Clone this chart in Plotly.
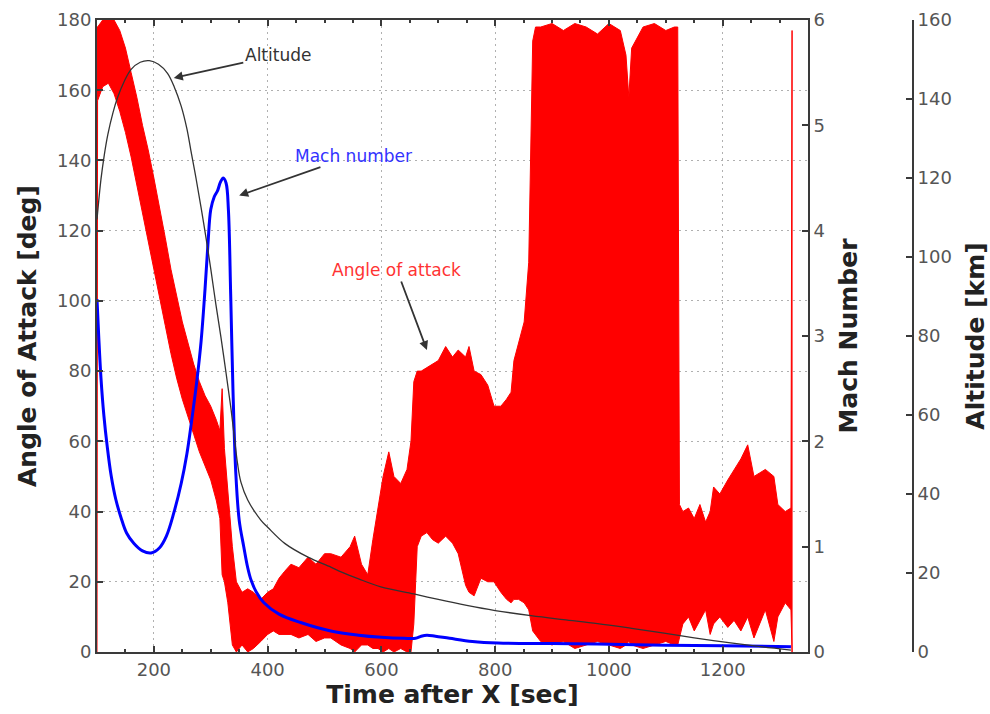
import plotly.graph_objects as go

# ---------------- data ----------------
# Angle of attack: envelope of the oscillating signal (deg)
aoa_t = [100, 101, 110, 120, 130, 140, 150, 160, 170, 180, 190, 200, 210, 220, 230, 240,
         250, 260, 270, 280, 290, 300, 310, 316, 320, 324, 330, 338, 345, 355, 365, 375,
         388, 400, 410, 420, 430, 441, 455, 471, 485, 500, 511, 529, 545, 553, 565, 576,
         585, 594, 603, 613, 622, 634, 645, 652, 657, 663, 670, 680, 690, 700, 713, 725,
         735, 748, 754, 763, 775, 787, 798, 810, 820, 828, 833, 841, 851, 859, 866, 871,
         880, 900, 920, 940, 960, 980, 1000, 1020, 1030, 1035, 1040, 1060, 1080, 1100, 1115,
         1121, 1124, 1130, 1140, 1150, 1160, 1170, 1178, 1184, 1195, 1209, 1220, 1232, 1244,
         1255, 1265, 1275, 1290, 1297, 1310, 1320, 1322]
aoa_hi = [178, 178, 180, 180, 180, 177, 172, 165, 158, 150, 143, 135, 127, 118, 109, 101,
          94, 88, 82, 77, 73, 70, 66, 63, 75, 58, 45, 30, 20, 17, 18, 17,
          15, 17, 18, 21, 23, 25, 24, 27, 25, 28, 28, 27, 30, 33, 25, 22,
          32, 41, 50, 57, 50, 48, 52, 60, 77, 80, 80, 81, 82, 83, 87, 84,
          86, 84, 87, 80, 79, 76, 70, 70, 72, 74, 83, 88, 94, 111, 174, 178,
          178, 179, 177, 179, 178, 176, 179, 177, 170, 158, 172, 178, 179, 177, 178,
          178, 42, 40, 41, 38, 42, 37, 40, 47, 45, 49, 52, 55, 59,
          50, 51, 52, 50, 42, 40, 41, 177]
aoa_lo = [0, 157, 161, 162, 159, 154, 148, 141, 134, 126, 118, 109, 101, 93, 85, 78,
          72, 67, 62, 57, 53, 49, 43, 38, 22, 20, 14, 2, 0, 2, 0, 1,
          3, 5, 6, 5, 5, 5, 4, 5, 3, 4, 4, 2, 1, 0, 2, 2,
          1, 1, 0, 1, 0, 1, 0, 0, 8, 30, 33, 34, 32, 31, 33, 31,
          28, 19, 17, 16, 21, 20, 20, 17, 15, 14, 15, 15, 14, 12, 6, 5,
          3, 2, 3, 1, 2, 3, 2, 1, 2, 3, 2, 1, 2, 3, 2,
          2, 4, 8, 10, 6, 9, 12, 5, 8, 10, 7, 9, 6, 10,
          4, 8, 12, 3, 10, 14, 12, 0]

# Mach number
mach_t = [100, 103, 107, 112, 118, 125, 133, 142, 152, 165, 180, 195, 210, 222, 235, 248,
          258, 266, 275, 283, 290, 295, 300, 306, 312, 317, 322, 327, 331, 335, 339, 344,
          350, 358, 365, 371, 380, 393, 420, 458, 511, 560, 600, 640, 660, 670, 680, 695,
          720, 760, 805, 900, 980, 1100, 1200, 1320]
mach = [3.35, 3.0, 2.6, 2.25, 1.95, 1.67, 1.45, 1.28, 1.13, 1.03, 0.96, 0.94, 0.99, 1.1, 1.32, 1.6,
        1.88, 2.18, 2.55, 2.95, 3.45, 3.87, 4.2, 4.32, 4.38, 4.46, 4.5, 4.45, 4.2, 3.4, 2.5, 1.7,
        1.25, 1.0, 0.8, 0.68, 0.57, 0.47, 0.36, 0.28, 0.2, 0.16, 0.14, 0.13, 0.13, 0.15, 0.16, 0.15,
        0.13, 0.1, 0.085, 0.08, 0.076, 0.065, 0.06, 0.05]

# Altitude (km)
alt_t = [100, 107, 113, 119, 128, 136, 148, 160, 176, 192, 208, 224, 236, 248, 258, 265,
         274, 283, 292, 300, 309, 318, 327, 335, 341, 347, 353, 365, 388, 400, 430, 471,
         511, 529, 560, 599, 657, 700, 750, 800, 863, 920, 980, 1040, 1097, 1150, 1214, 1270, 1320]
alt = [109.5, 119.7, 126, 131, 136.5, 140.3, 144.5, 147.5, 149.3, 149.7, 148.8, 146.5, 143, 138.2, 132.5, 127,
       120, 112.5, 104.5, 97, 88, 79.6, 70.5, 62.2, 55, 47.8, 43, 38.5, 33.4, 31.6, 27.5, 24,
       21.5, 20.3, 18.5, 16.5, 14.7, 13.3, 11.8, 10.5, 9.2, 8.2, 7.2, 6.0, 4.8, 3.6, 2.3, 1.3, 0.5]

x_ticks = [200, 400, 600, 800, 1000, 1200]

# ---------------- figure ----------------
FONT = "DejaVu Sans"
AX = "#3a3a3a"
TICKF = dict(family=FONT, size=18, color="#555555")
TITLEF = dict(family=FONT, size=25, color="#222222")

fig = go.Figure()

fig.add_trace(go.Scatter(
    x=aoa_t + aoa_t[::-1], y=aoa_hi + aoa_lo[::-1],
    mode="lines", fill="toself", fillcolor="#ff0000",
    line=dict(color="#ff0000", width=1), yaxis="y", hoverinfo="skip"))

fig.add_trace(go.Scatter(x=alt_t, y=alt, mode="lines",
                         line=dict(color="#333333", width=1.3, shape="spline"), yaxis="y3"))
fig.add_trace(go.Scatter(x=mach_t, y=mach, mode="lines",
                         line=dict(color="#0000ff", width=3, shape="spline"), yaxis="y2"))

L, R, T, B = 97, 20, 20, 62
W, H = 990, 714
pw = W - L - R
dom_r = (808 - L) / pw
alt_pos = (913 - L) / pw

grid = dict(showgrid=True, gridcolor="#b0b0b0", gridwidth=1, griddash="2px,4px")

fig.update_layout(
    width=W, height=H, margin=dict(l=L, r=R, t=T, b=B, autoexpand=False),
    paper_bgcolor="white", plot_bgcolor="white", showlegend=False,
    xaxis=dict(domain=[0, dom_r], range=[100, 1350], tickvals=x_ticks, automargin=False,
               ticks="inside", ticklen=6, tickwidth=2, tickcolor=AX,
               showline=True, linecolor=AX, linewidth=2, mirror="ticks",
               minor=dict(dtick=50, tick0=0, ticks="inside", ticklen=3, tickcolor=AX, showgrid=False),
               tickfont=TICKF, zeroline=False,
               title=dict(text="<b>Time after X [sec]</b>", font=TITLEF, standoff=3),
               **grid),
    yaxis=dict(range=[0, 180], dtick=20, ticks="inside", ticklen=6, tickwidth=2, tickcolor=AX,
               showline=True, linecolor=AX, linewidth=2, tickfont=TICKF, zeroline=False,
               automargin=False, **grid),
    yaxis2=dict(range=[0, 6], dtick=1, overlaying="y", side="right", anchor="x",
                ticks="inside", ticklen=6, tickwidth=2, tickcolor=AX, automargin=False,
                showline=True, linecolor=AX, linewidth=2, tickfont=TICKF,
                showgrid=False, zeroline=False,
                title=dict(text="<b>Mach Number</b>", font=TITLEF, standoff=15)),
    yaxis3=dict(range=[0, 160], dtick=20, overlaying="y", side="right", anchor="free",
                position=alt_pos, ticks="inside", ticklen=6, tickwidth=2, tickcolor=AX,
                showline=True, linecolor=AX, linewidth=2, tickfont=TICKF, automargin=False,
                showgrid=False, zeroline=False,
                title=dict(text="<b>Altitude [km]</b>", font=TITLEF, standoff=16)),
)

# left axis title
fig.add_annotation(x=(27 - L) / pw, y=0.5, xref="paper", yref="paper",
                   text="<b>Angle of Attack [deg]</b>", font=TITLEF, textangle=-90,
                   showarrow=False, xanchor="center", yanchor="middle")

ann_font = dict(family=FONT, size=17)
fig.add_annotation(x=235, y=163.5, xref="x", yref="y", text="Altitude",
                   font=dict(ann_font, color="#333333"), showarrow=True,
                   ax=104, ay=-23, arrowhead=2, arrowsize=1, arrowwidth=1.8, arrowcolor="#333333")
fig.add_annotation(x=350, y=130, xref="x", yref="y", text="Mach number",
                   font=dict(ann_font, color="#3333ff"), showarrow=True,
                   ax=114, ay=-40, arrowhead=2, arrowsize=1, arrowwidth=1.8, arrowcolor="#333333")
fig.add_annotation(x=680, y=86, xref="x", yref="y", text="Angle of attack",
                   font=dict(ann_font, color="#ff3333"), showarrow=True,
                   ax=-30, ay=-80, arrowhead=2, arrowsize=1, arrowwidth=1.8, arrowcolor="#333333")

fig.write_html("out.html")
